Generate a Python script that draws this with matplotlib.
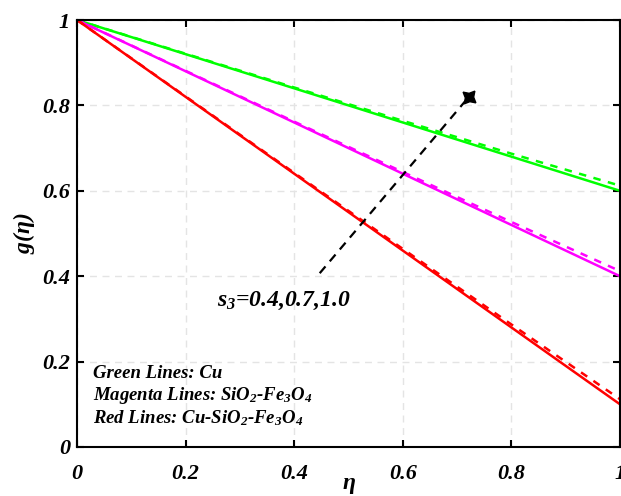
import numpy as np
import matplotlib.pyplot as plt

# valores
eta = [0.0, 0.2, 0.4, 0.6, 0.8, 1.0]

cu_solid = [1.0, 0.92, 0.84, 0.76, 0.68, 0.60]
cu_dash = [1.0, 0.921, 0.842, 0.764, 0.687, 0.612]
sife_solid = [1.0, 0.88, 0.76, 0.64, 0.52, 0.40]
sife_dash = [1.0, 0.881, 0.762, 0.644, 0.527, 0.412]
cusife_solid = [1.0, 0.82, 0.64, 0.46, 0.28, 0.10]
cusife_dash = [1.0, 0.821, 0.642, 0.464, 0.287, 0.112]

xticks = [0, 0.2, 0.4, 0.6, 0.8, 1]
xticklabels = ["0", "0.2", "0.4", "0.6", "0.8", "1"]
yticks = [0, 0.2, 0.4, 0.6, 0.8, 1]
yticklabels = ["0", "0.2", "0.4", "0.6", "0.8", "1"]

plt.rcParams['font.family'] = 'Liberation Serif'
plt.rcParams['mathtext.fontset'] = 'custom'
plt.rcParams['mathtext.it'] = 'Liberation Serif:bold:italic'
plt.rcParams['mathtext.rm'] = 'Liberation Serif:bold:italic'
plt.rcParams['mathtext.bf'] = 'Liberation Serif:bold:italic'

fig = plt.figure(figsize=(6.21, 4.96), dpi=100)
ax = fig.add_axes([77/621, 49/496, 543/621, 427/496])

ax.grid(True, linestyle=(0, (5, 4)), color='#e4e4e4', linewidth=1.0)
ax.set_axisbelow(True)

series = [(cu_solid, cu_dash, '#00ff00'),
          (sife_solid, sife_dash, '#ff00ff'),
          (cusife_solid, cusife_dash, '#ff0000')]
for solid, dash, c in series:
    ax.plot(eta, solid, '-', color=c, lw=1.8)
    ax.plot(eta, dash, '--', color=c, lw=1.8, dashes=(3, 3))

ax.set_xlim(0, 1)
ax.set_ylim(0, 1)
ax.set_xticks(xticks)
ax.set_xticklabels(xticklabels)
ax.set_yticks(yticks)
ax.set_yticklabels(yticklabels)
for lab in ax.get_xticklabels() + ax.get_yticklabels():
    lab.set_fontweight('bold')
    lab.set_fontstyle('italic')
    lab.set_fontsize(16)

ax.tick_params(direction='in', top=True, right=True, length=5, width=1.5)
ax.tick_params(axis='x', pad=12)
ax.tick_params(axis='y', pad=5)
for s in ax.spines.values():
    s.set_linewidth(1.5)

ax.set_xlabel(r'$\eta$', fontsize=17, labelpad=-6)
ax.set_ylabel(r'$g(\eta)$', fontsize=17, labelpad=4)

# flecha
ax.plot([0.447, 0.715], [0.407, 0.81], '--', color='black', lw=1.6, dashes=(4, 3))
ax.plot([0.722], [0.82], marker=(4, 1, -40), color='black', markersize=12)

ax.text(0.258, 0.33, r'$s_3$=0.4,0.7,1.0', fontsize=17, fontweight='bold', fontstyle='italic')

ax.text(0.03, 0.162, 'Green Lines: Cu', fontsize=13.5, fontweight='bold', fontstyle='italic')
ax.text(0.03, 0.11, r'Magenta Lines: SiO$_2$-Fe$_3$O$_4$', fontsize=13.5, fontweight='bold', fontstyle='italic')
ax.text(0.03, 0.055, r'Red Lines: Cu-SiO$_2$-Fe$_3$O$_4$', fontsize=13.5, fontweight='bold', fontstyle='italic')

fig.savefig('out.png', dpi=100)
